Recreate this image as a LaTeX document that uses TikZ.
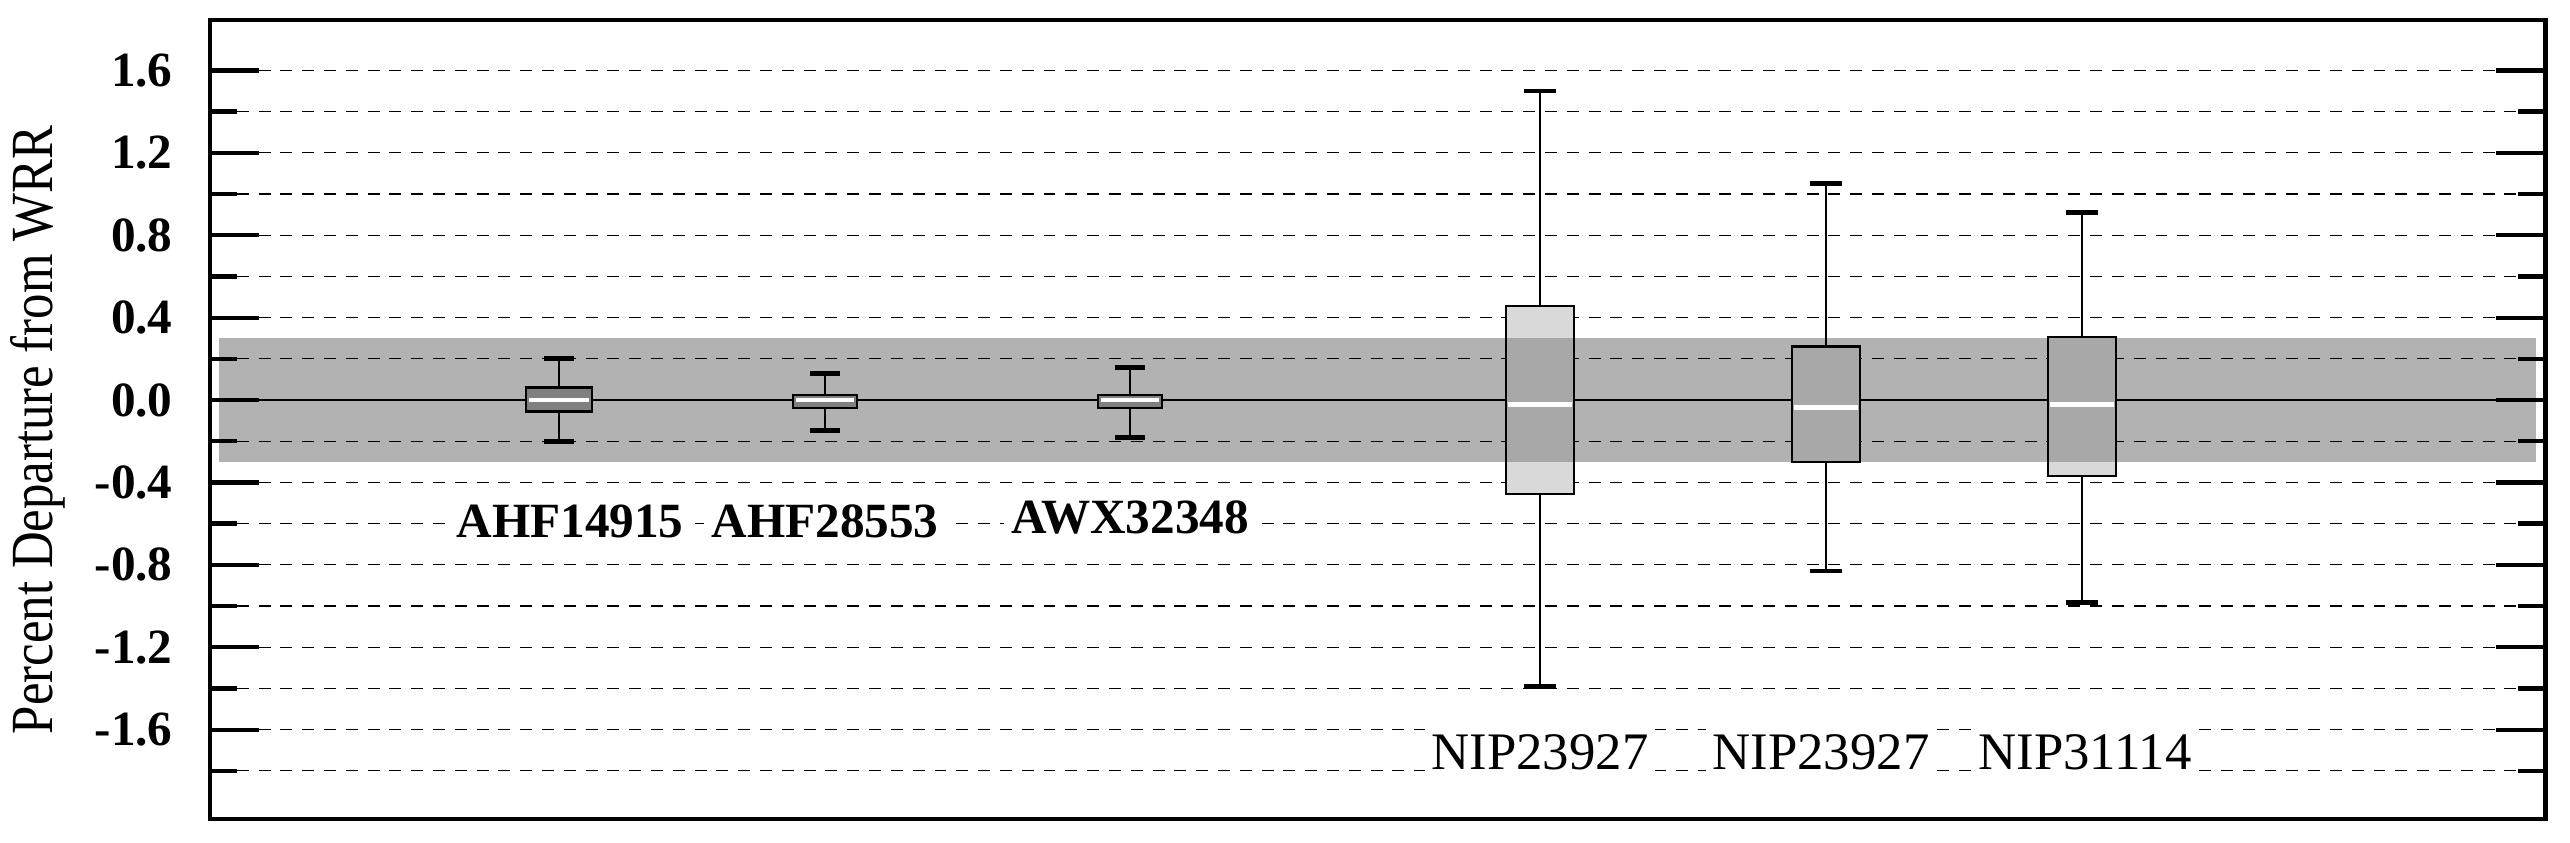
\documentclass[tikz,border=0pt]{standalone}
\usepackage{fontspec}
\setmainfont{Liberation Serif}
\begin{document}
\begin{tikzpicture}[x=0.01cm,y=-0.01cm,
  grid/.style={line width=0.35pt,dash pattern=on 3.4pt off 2.8pt},
  tick/.style={line width=1.2pt},
  whisk/.style={line width=0.6pt},
  capbar/.style={line width=1.4pt},
  ylab/.style={anchor=east,font=\bfseries\fontsize{14}{16}\selectfont},
  catlab/.style={fill=white,inner sep=2pt,font=\fontsize{15}{17}\selectfont},
  catlabb/.style={fill=white,inner sep=2pt,font=\bfseries\fontsize{14}{16}\selectfont}]
\useasboundingbox (0,0) rectangle (2570,842);
\def\Y#1{400-206*(#1)}
% band
\fill[gray!60] (219,{\Y{0.3}}) rectangle (2536,{\Y{-0.3}});
% grid
\foreach \v in {1.6,1.4,...,-1.85}{
  \draw[grid] (215,{\Y{\v}}) -- (2540,{\Y{\v}});
}
% ticks
\foreach \v in {1.6,1.2,...,-1.7}{
  \draw[tick] (210,{\Y{\v}}) -- (259,{\Y{\v}});
  \draw[tick] (2545,{\Y{\v}}) -- (2496,{\Y{\v}});
}
\foreach \v in {1.4,1.0,...,-1.9}{
  \draw[tick] (210,{\Y{\v}}) -- (237,{\Y{\v}});
  \draw[tick] (2545,{\Y{\v}}) -- (2518,{\Y{\v}});
}
\foreach \v/\t in {1.6/1.6,1.2/1.2,0.8/0.8,0.4/0.4,0/0.0,-0.4/-0.4,-0.8/-0.8,-1.2/-1.2,-1.6/-1.6}{
  \node[ylab] (l\t) at (185,{\Y{\v}}) {\t};
}
\draw[line width=0.6pt] (215,400) -- (2540,400);
% small boxes
\foreach \x/\hw/\wt/\qt/\qb/\wb in {559/33/0.2/0.06/-0.055/-0.2, 825/32/0.13/0.025/-0.04/-0.15, 1130/32/0.16/0.025/-0.04/-0.18}{
  \draw[whisk] (\x,{\Y{\wt}}) -- (\x,{\Y{\wb}});
  \draw[capbar] (\x-15,{\Y{\wt}}) -- (\x+15,{\Y{\wt}});
  \draw[capbar] (\x-15,{\Y{\wb}}) -- (\x+15,{\Y{\wb}});
  \draw[line width=0.7pt,fill=gray] (\x-\hw,{\Y{\qt}}) rectangle (\x+\hw,{\Y{\qb}});
  \draw[white,line width=1.4pt] (\x-\hw+3,400) -- (\x+\hw-3,400);
}
% large boxes
\foreach \x/\wt/\qt/\md/\qb/\wb in {1540/1.5/0.456/-0.02/-0.456/-1.39, 1826/1.05/0.26/-0.035/-0.30/-0.83, 2082/0.91/0.305/-0.02/-0.37/-0.985}{
  \draw[whisk] (\x,{\Y{\wt}}) -- (\x,{\Y{\wb}});
  \draw[capbar] (\x-16,{\Y{\wt}}) -- (\x+16,{\Y{\wt}});
  \draw[capbar] (\x-16,{\Y{\wb}}) -- (\x+16,{\Y{\wb}});
  \fill[gray!30] (\x-34,{\Y{\qt}}) rectangle (\x+34,{\Y{\qb}});
  \fill[gray!68] (\x-34,{\Y{min(\qt,0.3)}}) rectangle (\x+34,{\Y{max(\qb,-0.3)}});
  \draw[white,line width=1.4pt] (\x-32,{\Y{\md}}) -- (\x+32,{\Y{\md}});
  \draw[line width=0.7pt] (\x-34,{\Y{\qt}}) rectangle (\x+34,{\Y{\qb}});
}
% labels
\node[catlabb] (a1) at (570,521) {AHF14915};
\node[catlabb] (a2) at (825,521) {AHF28553};
\node[catlabb] (a3) at (1130,517) {AWX32348};
\node[catlab] (n1) at (1540,752) {NIP23927};
\node[catlab] (n2) at (1821,752) {NIP23927};
\node[catlab] (n3) at (2085,752) {NIP31114};
% frame
\draw[line width=1.4pt] (210,20) rectangle (2545,819);
\node[rotate=90,font=\fontsize{17}{19}\selectfont] (title) at (38,430) {\scalebox{0.85}[1]{Percent Departure from WRR}};
\end{tikzpicture}
\end{document}
